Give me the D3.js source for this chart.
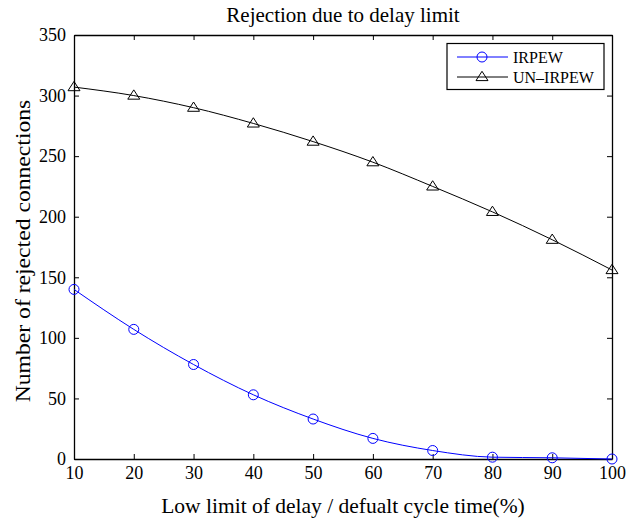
<!DOCTYPE html>
<html>
<head>
<meta charset="utf-8">
<script src="https://cdn.jsdelivr.net/npm/d3@7"></script>
<style>
  body { margin: 0; background: #fff; }
  svg text { font-family: "Liberation Serif", "DejaVu Serif", serif; fill: #000; }
</style>
</head>
<body>
<div id="chart"></div>
<script>
// Data
var delayLimits = [10, 20, 30, 40, 50, 60, 70, 80, 90, 100];
var irpew = [140, 107, 78, 53, 33, 17, 7, 1.5, 1, 0];
var unIrpew = [307, 300, 290, 277, 262, 245, 225, 204, 181, 156];
var xTicks = [10, 20, 30, 40, 50, 60, 70, 80, 90, 100];
var yTicks = [0, 50, 100, 150, 200, 250, 300, 350];

var series = [
    {name: "IRPEW", values: irpew, color: "#0000ff", marker: "circle"},
    {name: "UN\u2013IRPEW", values: unIrpew, color: "#000000", marker: "triangle"}
];

var margin = {top: 35, right: 28, bottom: 60, left: 74};
var width = 640 - margin.left - margin.right,
    height = 519 - margin.top - margin.bottom;

var svg = d3.select("#chart").append("svg")
    .attr("width", 640)
    .attr("height", 519);

var g = svg.append("g")
    .attr("transform", "translate(" + margin.left + "," + margin.top + ")");

var x = d3.scaleLinear().domain([10, 100]).range([0, width]);
var y = d3.scaleLinear().domain([0, 350]).range([height, 0]);

// Axes with inward ticks, mirrored on top/right
var tickLen = 5;
g.append("g")
    .attr("class", "axis x-axis")
    .attr("transform", "translate(0," + height + ")")
    .call(d3.axisBottom(x).tickValues(xTicks).tickSizeInner(-tickLen).tickSizeOuter(0).tickPadding(7));
g.append("g")
    .attr("class", "axis x-top")
    .call(d3.axisTop(x).tickValues(xTicks).tickSizeInner(-tickLen).tickSizeOuter(0).tickFormat(""));
g.append("g")
    .attr("class", "axis y-axis")
    .call(d3.axisLeft(y).tickValues(yTicks).tickSizeInner(-tickLen).tickSizeOuter(0).tickPadding(8));
g.append("g")
    .attr("class", "axis y-right")
    .attr("transform", "translate(" + width + ",0)")
    .call(d3.axisRight(y).tickValues(yTicks).tickSizeInner(-tickLen).tickSizeOuter(0).tickFormat(""));

g.selectAll(".axis path").attr("stroke", "#000").attr("stroke-width", 1.3);
g.selectAll(".axis line").attr("stroke", "#000").attr("stroke-width", 1);
g.selectAll(".axis text").style("font-size", "18px").attr("fill", "#000");

// Lines
var line = d3.line()
    .curve(d3.curveMonotoneX)
    .x(function(d, i) { return x(delayLimits[i]); })
    .y(function(d) { return y(d); });

var triangle = function(cx, cy, s) {
    return "M" + cx + "," + (cy - s * 0.95) +
        "L" + (cx + s) + "," + (cy + s * 0.6) +
        "L" + (cx - s) + "," + (cy + s * 0.6) + "Z";
};

series.forEach(function(s) {
    g.append("path")
        .datum(s.values)
        .attr("fill", "none")
        .attr("stroke", s.color)
        .attr("stroke-width", 1)
        .attr("d", line);

    if (s.marker === "circle") {
        g.selectAll(".pt-" + s.marker)
            .data(s.values)
            .enter().append("circle")
            .attr("class", "pt-" + s.marker)
            .attr("cx", function(d, i) { return x(delayLimits[i]); })
            .attr("cy", function(d) { return y(d); })
            .attr("r", 5)
            .attr("fill", "none")
            .attr("stroke", s.color)
            .attr("stroke-width", 1);
    } else {
        g.selectAll(".pt-" + s.marker)
            .data(s.values)
            .enter().append("path")
            .attr("class", "pt-" + s.marker)
            .attr("d", function(d, i) { return triangle(x(delayLimits[i]), y(d), 6); })
            .attr("fill", "none")
            .attr("stroke", s.color)
            .attr("stroke-width", 1);
    }
});

// Legend
var legend = svg.append("g").attr("class", "legend");
legend.append("rect")
    .attr("x", 447).attr("y", 43.5)
    .attr("width", 157).attr("height", 46)
    .attr("fill", "#fff")
    .attr("stroke", "#000")
    .attr("stroke-width", 1.2);

series.forEach(function(s, i) {
    var ly = 57 + i * 20;
    legend.append("line")
        .attr("x1", 457).attr("x2", 508)
        .attr("y1", ly).attr("y2", ly)
        .attr("stroke", s.color)
        .attr("stroke-width", 1);
    if (s.marker === "circle") {
        legend.append("circle")
            .attr("cx", 482).attr("cy", ly).attr("r", 5)
            .attr("fill", "none").attr("stroke", s.color);
    } else {
        legend.append("path")
            .attr("d", triangle(482, ly, 6))
            .attr("fill", "none").attr("stroke", s.color);
    }
    legend.append("text")
        .attr("x", 513).attr("y", ly + 5.5)
        .style("font-size", "16px")
        .text(s.name);
});

// Title and axis labels
svg.append("text")
    .attr("x", margin.left + width / 2).attr("y", 22)
    .attr("text-anchor", "middle")
    .style("font-size", "21px")
    .text("Rejection due to delay limit");

svg.append("text")
    .attr("x", margin.left + width / 2).attr("y", 513)
    .attr("text-anchor", "middle")
    .style("font-size", "21.5px")
    .text("Low limit of delay / defualt cycle time(%)");

svg.append("text")
    .attr("transform", "translate(30,251) rotate(-90) scale(1.1,1)")
    .attr("text-anchor", "middle")
    .style("font-size", "21.5px")
    .text("Number of rejected connections");
</script>
</body>
</html>
